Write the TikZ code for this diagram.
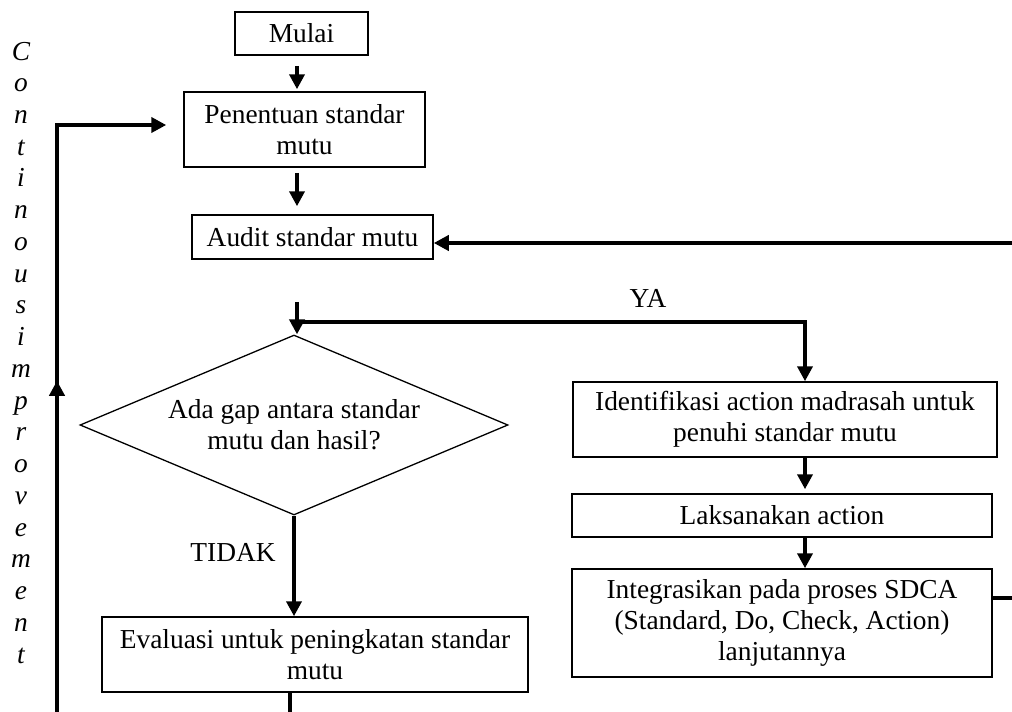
\documentclass[tikz,border=0pt]{standalone}
\usepackage{fontspec}
\setmainfont{Liberation Serif}
\usetikzlibrary{arrows.meta,shapes.geometric,decorations.markings,calc}
\begin{document}
\begin{tikzpicture}[x=0.5pt,y=-0.5pt,
  every node/.style={font=\fontsize{13.7}{15.6}\selectfont},
  box/.style={draw,line width=0.75pt,align=center,inner sep=0pt},
  conn/.style={line width=2.4pt},
  tip/.style={-{Triangle[length=7.5pt,width=7.5pt]}},
  arr/.style={conn,tip},
  vletter/.style={anchor=base,inner sep=0pt,font=\fontsize{13.7}{15.6}\selectfont\itshape}
]
% page frame
\useasboundingbox (0,0) rectangle (1012,712);
\fill[white] (0,0) rectangle (1012,712);
\clip (0,0) rectangle (1012,712);

% process boxes
\node[box,minimum width=66.5pt,minimum height=21.5pt] (mulai) at (301.5,33.5) {Mulai};
\node[box,minimum width=120.5pt,minimum height=37.5pt] (pen) at (304.5,129.5) {Penentuan standar\\mutu};
\node[box,minimum width=120.5pt,minimum height=22pt] (audit) at (312.5,237) {Audit standar mutu};
\node[draw,diamond,line width=0.65pt,aspect=2.38,inner sep=0pt,
      minimum width=214pt,minimum height=90pt,align=center] (gap) at (294,425)
      {Ada gap antara standar\\mutu dan hasil?};
\node[box,minimum width=213pt,minimum height=37.5pt] (eval) at (315,654.5) {Evaluasi untuk peningkatan standar\\mutu};
\node[box,minimum width=212pt,minimum height=37.5pt] (ident) at (785,419.5) {Identifikasi action madrasah untuk\\penuhi standar mutu};
\node[box,minimum width=210pt,minimum height=21.5pt] (laks) at (782,515.5) {Laksanakan action};
\node[box,minimum width=210pt,minimum height=54pt] (integ) at (782,623) {Integrasikan pada proses SDCA\\(Standard, Do, Check, Action)\\lanjutannya};

% branch labels
\node (ya) at (648,298) {YA};
\node (tidak) at (233,552) {TIDAK};

% vertical caption
\foreach \ch [count=\i from 0] in {C,o,n,t,i,n,o,u,s,i,m,p,r,o,v,e,m,e,n,t}
  \node[vletter] (v\i) at (21,{60+31.74*\i}) {\ch};

% helper coordinates
\coordinate (colA) at (297,0);
\coordinate (colB) at (805,0);
\coordinate (jn) at (297,322);
\coordinate (tl) at (57,125);

% main flow
\draw[arr,shorten <=5pt,shorten >=1pt] (mulai.south -| colA) -- (pen.north -| colA);
\draw[arr,shorten <=2.5pt,shorten >=4pt] (pen.south -| colA) -- (audit.north -| colA);
\draw[arr,shorten <=21pt] (audit.south -| colA) -- (gap.north -| colA);
\draw[arr] (jn) -| (ident.north -| colB);
\draw[arr] (gap.south) -- (eval.north -| gap.south);
\draw[arr,shorten >=2pt] (ident.south -| colB) -- (laks.north -| colB);
\draw[arr] (laks.south -| colB) -- (integ.north -| colB);

% SDCA loop back to the audit
\draw[arr] ([yshift=12.5pt]integ.east) -- ++(40,0) |- ([yshift=-3pt]audit.east);

% continuous improvement loop
\draw[arr,shorten >=8.5pt,postaction=decorate,
      decoration={markings,mark=at position 322.5pt with {\arrow{Triangle[length=7.5pt,width=7.5pt]}}}]
  ([xshift=-12.5pt]eval.south) -- ++(0,50) -| (tl) -- (tl -| pen.west);
\end{tikzpicture}
\end{document}
